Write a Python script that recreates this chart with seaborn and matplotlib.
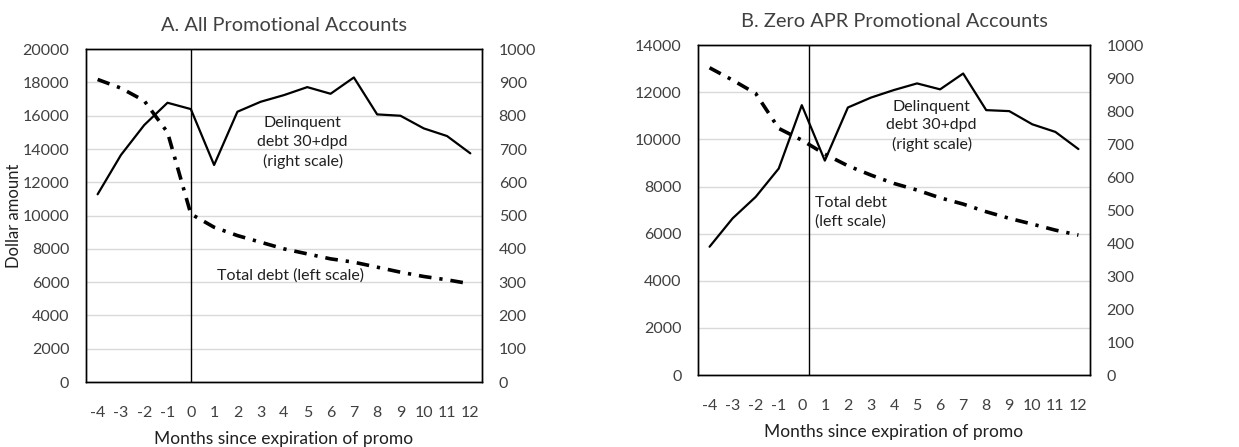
import pandas as pd
import matplotlib
matplotlib.use('Agg')
import matplotlib.pyplot as plt
import seaborn as sns

# Data
months = list(range(-4, 13))
month_labels = [str(m) for m in months]

# Panel A: all promotional accounts
total_debt_a = [18180, 17660, 16900, 15000, 10100, 9300, 8800, 8400, 8000,
                7700, 7400, 7200, 6900, 6600, 6340, 6140, 5900]
delinq_a = [564, 682, 772, 839, 820, 652, 812, 842, 862,
            886, 866, 915, 804, 800, 762, 739, 687]

# Panel B: zero APR promotional accounts
total_debt_b = [13040, 12515, 11950, 10465, 9970, 9375, 8880, 8485, 8130,
                7850, 7520, 7255, 6930, 6650, 6405, 6150, 5940]
delinq_b = [389, 475, 540, 626, 818, 650, 811, 841, 864,
            884, 866, 914, 803, 800, 760, 737, 685]

sns.set_style('white')
plt.rcParams['font.family'] = ['Lato', 'DejaVu Sans']
plt.rcParams['text.color'] = '#404040'

fig = plt.figure(figsize=(12.39, 4.47), dpi=100)
ax_a = fig.add_axes([0.0694, 0.1454, 0.3196, 0.7446])
ax_b = fig.add_axes([0.5634, 0.161, 0.3163, 0.738])

panels = [
    (ax_a, total_debt_a, delinq_a, 20000, 0.0, 'A. All Promotional Accounts'),
    (ax_b, total_debt_b, delinq_b, 14000, 0.3, 'B. Zero APR Promotional Accounts'),
]

tick_font = 11.5
for ax, tot, dlq, ymax, vline_x, title in panels:
    df = pd.DataFrame({'month': months, 'total': tot, 'delinq': dlq})
    ax2 = ax.twinx()

    # gridlines on the left scale
    ax.set_ylim(0, ymax)
    ax.set_yticks(range(0, ymax + 1, 2000))
    ax.yaxis.grid(True, color='#d9d9d9', lw=1)
    ax.set_axisbelow(True)

    sns.lineplot(data=df, x='month', y='total', ax=ax, color='black', lw=2.6,
                 dashes=False, zorder=3)
    ax.lines[-1].set_dashes([3.5, 2.2, 0.9, 2.2])
    sns.lineplot(data=df, x='month', y='delinq', ax=ax2, color='black', lw=1.6,
                 zorder=3)

    ax2.set_ylim(0, 1000)
    ax2.set_yticks(range(0, 1001, 100))
    ax.axvline(vline_x, color='black', lw=1, zorder=2)

    ax.set_xlim(-4.5, 12.5)
    ax.set_xticks(months)
    ax.set_xticklabels(month_labels)
    ax.set_xlabel('Months since expiration of promo', fontsize=12.5, color='#202020', labelpad=8)
    ax.set_ylabel('')
    ax2.set_ylabel('')
    ax.tick_params(axis='x', length=0, pad=17, labelsize=tick_font, labelcolor='#404040')
    ax.tick_params(axis='y', length=0, pad=12, labelsize=tick_font, labelcolor='#404040')
    ax2.tick_params(axis='y', length=0, pad=12, labelsize=tick_font, labelcolor='#404040')
    for a in (ax, ax2):
        for s in a.spines.values():
            s.set_visible(True)
            s.set_color('black')
            s.set_linewidth(1)
    ax.set_title(title, fontsize=14.4, color='#404040', pad=13)

ax_a.set_ylabel('Dollar amount', fontsize=12, color='#202020', labelpad=0)

ax_a.text(4.8, 14400, 'Delinquent\ndebt 30+dpd\n(right scale)', ha='center', va='center',
          fontsize=11.5, color='#202020', linespacing=1.4, zorder=5)
ax_a.text(4.3, 6400, 'Total debt (left scale)', ha='center', va='center',
          fontsize=11.5, color='#202020', zorder=5)
ax_b.text(5.63, 10560, 'Delinquent\ndebt 30+dpd\n(right scale)', ha='center', va='center',
          fontsize=11.5, color='#202020', linespacing=1.4, zorder=5)
ax_b.text(0.56, 6900, 'Total debt\n(left scale)', ha='left', va='center',
          fontsize=11.5, color='#202020', linespacing=1.4, zorder=5)

fig.savefig('out.png', dpi=100)
